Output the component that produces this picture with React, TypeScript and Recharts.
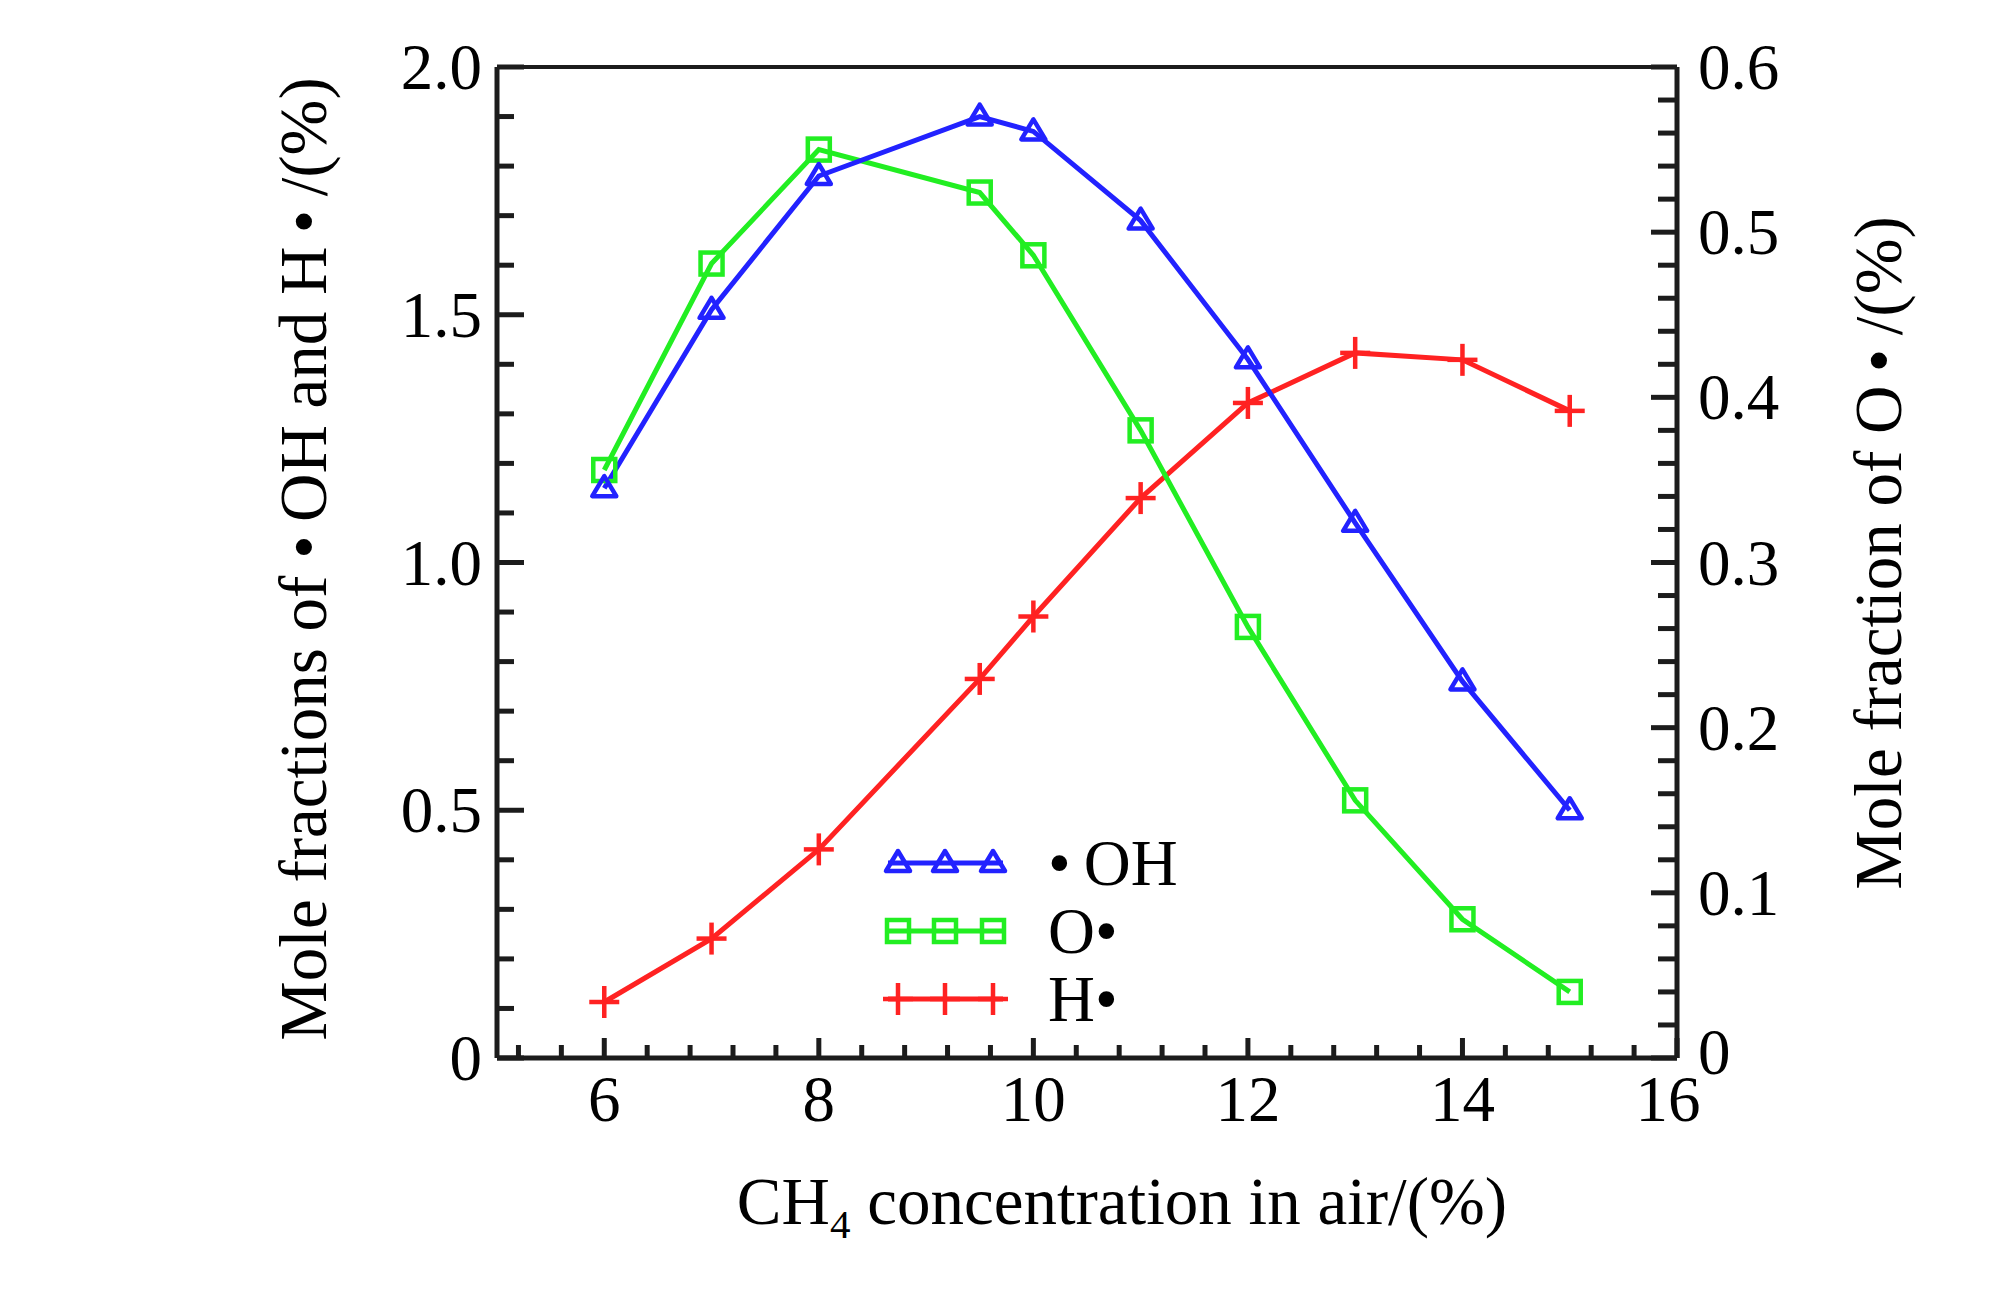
import React from 'react';
import { LineChart, Line, XAxis, YAxis, Legend, ReferenceLine, Label } from 'recharts';

// CH4 concentration in air (%)
const xValues = [6, 7, 8, 9.5, 10, 11, 12, 13, 14, 15];
// ·OH mole fraction (%), left axis
const ohValues = [1.15, 1.51, 1.78, 1.9, 1.87, 1.69, 1.41, 1.08, 0.76, 0.5];
// O· mole fraction (%), right axis
const oValues = [0.356, 0.481, 0.55, 0.524, 0.486, 0.38, 0.261, 0.156, 0.084, 0.04];
// H· mole fraction (%), left axis
const hValues = [0.113, 0.241, 0.421, 0.765, 0.891, 1.13, 1.322, 1.423, 1.409, 1.306];

const seriesNames = ['•\u2009OH', 'O•', 'H•'];

const xMajorTicks = [6, 8, 10, 12, 14, 16];
const xMinorTicks = [
  5.2, 5.6, 6.4, 6.8, 7.2, 7.6, 8.4, 8.8, 9.2, 9.6, 10.4, 10.8, 11.2, 11.6, 12.4, 12.8, 13.2,
  13.6, 14.4, 14.8, 15.2, 15.6,
];
const leftMajorTicks = [0, 0.5, 1, 1.5, 2];
const leftMinorTicks = [
  0.1, 0.2, 0.3, 0.4, 0.6, 0.7, 0.8, 0.9, 1.1, 1.2, 1.3, 1.4, 1.6, 1.7, 1.8, 1.9,
];
const rightMajorTicks = [0, 0.1, 0.2, 0.3, 0.4, 0.5, 0.6];
const rightMinorTicks = [
  0.02, 0.04, 0.06, 0.08, 0.12, 0.14, 0.16, 0.18, 0.22, 0.24, 0.26, 0.28, 0.32, 0.34, 0.36,
  0.38, 0.42, 0.44, 0.46, 0.48, 0.52, 0.54, 0.56, 0.58,
];

const data = xValues.map((x, i) => ({ x, oh: ohValues[i], o: oValues[i], h: hValues[i] }));

const FONT = "'Liberation Serif', 'Times New Roman', serif";
const FS = 65;
const TITLE_FS = 67;
const AXIS = '#1c1c1c';
const BLUE = '#2222ff';
const GREEN = '#22ee22';
const RED = '#ff2222';
const LINE_W = 5;

const isMajor = (list: number[], v: number) => list.some((m) => Math.abs(m - v) < 1e-6);
const fmt = (v: number) => (v === 0 ? '0' : v.toFixed(1));

const XTick = (props: any) => {
  const { x, y, payload } = props;
  const major = isMajor(xMajorTicks, payload.value);
  // the last label sits a little left of the corner, as in the original
  const shift = payload.value === 16 ? -9 : 0;
  return (
    <g>
      <line x1={x} y1={y} x2={x} y2={y - (major ? 20 : 13)} stroke={AXIS} strokeWidth={5} />
      {major && (
        <text x={x + shift} y={y + 63} textAnchor="middle" fontSize={FS} fontFamily={FONT} fill="#000">
          {payload.value}
        </text>
      )}
    </g>
  );
};

const LeftTick = (props: any) => {
  const { x, y, payload } = props;
  const major = isMajor(leftMajorTicks, payload.value);
  return (
    <g>
      <line x1={x} y1={y} x2={x + (major ? 27 : 17)} y2={y} stroke={AXIS} strokeWidth={5} />
      {major && (
        <text x={x - 15} y={y + 22} textAnchor="end" fontSize={FS} fontFamily={FONT} fill="#000">
          {fmt(payload.value)}
        </text>
      )}
    </g>
  );
};

const RightTick = (props: any) => {
  const { x, y, payload } = props;
  const major = isMajor(rightMajorTicks, payload.value);
  const dy = payload.value === 0 ? 16 : 22;
  return (
    <g>
      <line x1={x} y1={y} x2={x - (major ? 26 : 19)} y2={y} stroke={AXIS} strokeWidth={5} />
      {major && (
        <text x={x + 21} y={y + dy} textAnchor="start" fontSize={FS} fontFamily={FONT} fill="#000">
          {fmt(payload.value)}
        </text>
      )}
    </g>
  );
};

const marker = (kind: string, cx: number, cy: number, color: string, key?: any) => {
  if (kind === 'triangle') {
    return (
      <polygon
        key={key}
        points={`${cx},${cy - 12} ${cx - 12},${cy + 8} ${cx + 12},${cy + 8}`}
        fill="none"
        stroke={color}
        strokeWidth={4.5}
        strokeLinejoin="round"
      />
    );
  }
  if (kind === 'square') {
    return (
      <rect key={key} x={cx - 11} y={cy - 11} width={22} height={22} fill="none" stroke={color} strokeWidth={4.5} />
    );
  }
  return (
    <g key={key}>
      <line x1={cx - 15} y1={cy} x2={cx + 15} y2={cy} stroke={color} strokeWidth={4.5} />
      <line x1={cx} y1={cy - 16} x2={cx} y2={cy + 16} stroke={color} strokeWidth={4.5} />
    </g>
  );
};

const dotOf = (kind: string, color: string) => (p: any) => {
  if (p.cx == null || p.cy == null) return <g key={p.key} />;
  return marker(kind, p.cx, p.cy, color, p.key);
};

const legendRows = [
  { name: seriesNames[0], color: BLUE, kind: 'triangle' },
  { name: seriesNames[1], color: GREEN, kind: 'square' },
  { name: seriesNames[2], color: RED, kind: 'plus' },
];

const LegendBox = () => (
  <svg width={420} height={220} style={{ display: 'block' }}>
    {legendRows.map((r, i) => {
      const cy = 43 + i * 68;
      return (
        <g key={r.name}>
          <line x1={18} y1={cy} x2={133} y2={cy} stroke={r.color} strokeWidth={LINE_W} />
          {[28, 75, 123].map((cx) => marker(r.kind, cx, cy, r.color, cx))}
          <text x={178} y={cy + 22} fontSize={FS} fontFamily={FONT} fill="#000">
            {r.name}
          </text>
        </g>
      );
    })}
  </svg>
);

const XTitle = () => (
  <text x={1122} y={1224} textAnchor="middle" fontSize={TITLE_FS} fontFamily={FONT} fill="#000">
    CH
    <tspan fontSize={41} dy={14}>4</tspan>
    <tspan dy={-14}> concentration in air/(%)</tspan>
  </text>
);

const LeftTitle = () => (
  <text
    x={303}
    y={559}
    transform="rotate(-90, 303, 559)"
    textAnchor="middle"
    dominantBaseline="central"
    fontSize={TITLE_FS}
    fontFamily={FONT}
    fill="#000"
  >
    {'Mole fractions of •\u2009OH and H\u2009•\u2009/(%)'}
  </text>
);

const RightTitle = () => (
  <text
    x={1878}
    y={553}
    transform="rotate(-90, 1878, 553)"
    textAnchor="middle"
    dominantBaseline="central"
    fontSize={TITLE_FS}
    fontFamily={FONT}
    fill="#000"
  >
    {'Mole fraction of O\u2009•\u2009/(%)'}
  </text>
);

export default function App() {
  return (
    <div style={{ position: 'absolute', left: 0, top: 0, background: '#fff' }}>
      <LineChart
        width={2010}
        height={1299}
        data={data}
        margin={{ top: 67, right: 233, bottom: 181, left: 397 }}
      >
        <XAxis
          dataKey="x"
          type="number"
          domain={[5, 16]}
          ticks={[...xMajorTicks, ...xMinorTicks].sort((a, b) => a - b)}
          interval={0}
          tick={<XTick />}
          tickLine={false}
          tickSize={0}
          tickMargin={0}
          height={60}
          axisLine={{ stroke: AXIS, strokeWidth: 5 }}
          allowDataOverflow
        >
          <Label content={<XTitle />} />
        </XAxis>
        <YAxis
          yAxisId="left"
          type="number"
          domain={[0, 2]}
          ticks={[...leftMajorTicks, ...leftMinorTicks].sort((a, b) => a - b)}
          interval={0}
          tick={<LeftTick />}
          tickLine={false}
          tickSize={0}
          tickMargin={0}
          width={100}
          axisLine={{ stroke: AXIS, strokeWidth: 5 }}
        >
          <Label content={<LeftTitle />} />
        </YAxis>
        <YAxis
          yAxisId="right"
          orientation="right"
          type="number"
          domain={[0, 0.6]}
          ticks={[...rightMajorTicks, ...rightMinorTicks].sort((a, b) => a - b)}
          interval={0}
          tick={<RightTick />}
          tickLine={false}
          tickSize={0}
          tickMargin={0}
          width={100}
          axisLine={{ stroke: AXIS, strokeWidth: 5 }}
        >
          <Label content={<RightTitle />} />
        </YAxis>
        <ReferenceLine yAxisId="left" y={2} stroke={AXIS} strokeWidth={4} />
        <Legend
          layout="horizontal"
          verticalAlign="middle"
          align="center"
          content={<LegendBox />}
          wrapperStyle={{ left: 870, top: 820, width: 420, height: 220 }}
        />
        <Line
          yAxisId="left"
          dataKey="h"
          name={seriesNames[2]}
          type="linear"
          stroke={RED}
          strokeWidth={LINE_W}
          dot={dotOf('plus', RED)}
          activeDot={false}
          isAnimationActive={false}
        />
        <Line
          yAxisId="right"
          dataKey="o"
          name={seriesNames[1]}
          type="linear"
          stroke={GREEN}
          strokeWidth={LINE_W}
          dot={dotOf('square', GREEN)}
          activeDot={false}
          isAnimationActive={false}
        />
        <Line
          yAxisId="left"
          dataKey="oh"
          name={seriesNames[0]}
          type="linear"
          stroke={BLUE}
          strokeWidth={LINE_W}
          dot={dotOf('triangle', BLUE)}
          activeDot={false}
          isAnimationActive={false}
        />
      </LineChart>
    </div>
  );
}
